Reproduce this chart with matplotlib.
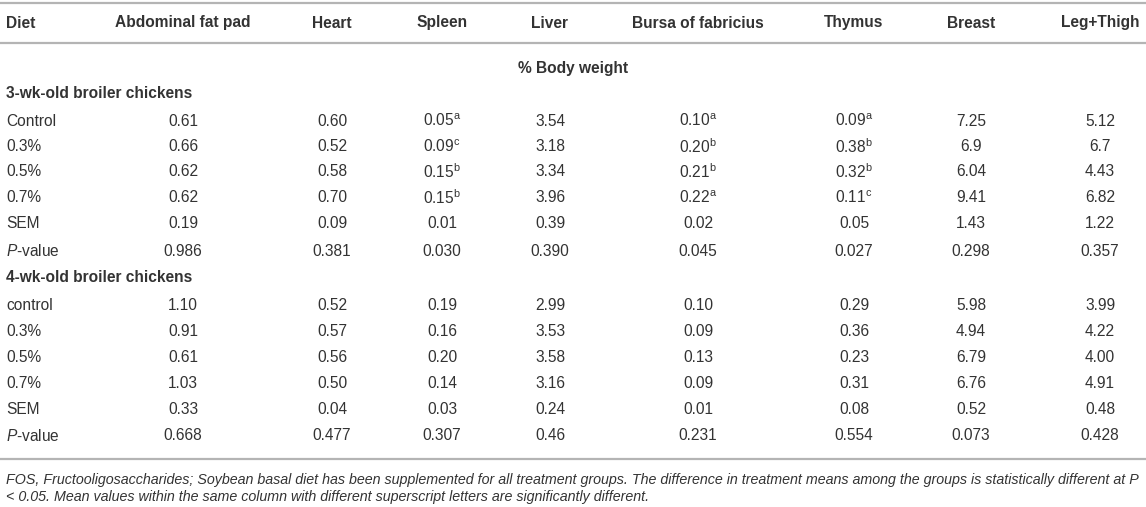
import matplotlib.pyplot as plt

plt.rcParams['font.family'] = ['Liberation Sans', 'DejaVu Sans']
plt.rcParams['mathtext.fontset'] = 'custom'
plt.rcParams['mathtext.rm'] = 'Liberation Sans'
plt.rcParams['mathtext.it'] = 'Liberation Sans:italic'

# table content
columns = ["Diet", "Abdominal fat pad", "Heart", "Spleen", "Liver",
           "Bursa of fabricius", "Thymus", "Breast", "Leg+Thigh"]
unit_label = "% Body weight"
group_names = ["3-wk-old broiler chickens", "4-wk-old broiler chickens"]

wk3_rows = ["Control", "0.3%", "0.5%", "0.7%", "SEM", "$\\mathit{P}$-value"]
wk3_values = [
    ["0.61", "0.60", "0.05", "3.54", "0.10", "0.09", "7.25", "5.12"],
    ["0.66", "0.52", "0.09", "3.18", "0.20", "0.38", "6.9", "6.7"],
    ["0.62", "0.58", "0.15", "3.34", "0.21", "0.32", "6.04", "4.43"],
    ["0.62", "0.70", "0.15", "3.96", "0.22", "0.11", "9.41", "6.82"],
    ["0.19", "0.09", "0.01", "0.39", "0.02", "0.05", "1.43", "1.22"],
    ["0.986", "0.381", "0.030", "0.390", "0.045", "0.027", "0.298", "0.357"],
]
wk3_sup = [
    ["", "", "a", "", "a", "a", "", ""],
    ["", "", "c", "", "b", "b", "", ""],
    ["", "", "b", "", "b", "b", "", ""],
    ["", "", "b", "", "a", "c", "", ""],
    ["", "", "", "", "", "", "", ""],
    ["", "", "", "", "", "", "", ""],
]

wk4_rows = ["control", "0.3%", "0.5%", "0.7%", "SEM", "$\\mathit{P}$-value"]
wk4_values = [
    ["1.10", "0.52", "0.19", "2.99", "0.10", "0.29", "5.98", "3.99"],
    ["0.91", "0.57", "0.16", "3.53", "0.09", "0.36", "4.94", "4.22"],
    ["0.61", "0.56", "0.20", "3.58", "0.13", "0.23", "6.79", "4.00"],
    ["1.03", "0.50", "0.14", "3.16", "0.09", "0.31", "6.76", "4.91"],
    ["0.33", "0.04", "0.03", "0.24", "0.01", "0.08", "0.52", "0.48"],
    ["0.668", "0.477", "0.307", "0.46", "0.231", "0.554", "0.073", "0.428"],
]

footnote_lines = [
    "FOS, Fructooligosaccharides; Soybean basal diet has been supplemented for all "
    "treatment groups. The difference in treatment means among the groups is "
    "statistically different at P",
    "< 0.05. Mean values within the same column with different superscript letters "
    "are significantly different.",
]

# layout (pixels from top-left)
W, H = 1146, 507
col_x = [6, 183, 332, 442, 550, 698, 854, 971, 1100]
text_color = "#333333"
line_color = "#b4b4b4"
fs = 11.2

fig = plt.figure(figsize=(W / 100, H / 100), dpi=100)
ax = fig.add_axes([0, 0, 1, 1])
ax.set_xlim(0, W)
ax.set_ylim(H, 0)
ax.axis("off")

for y in [3, 43, 459]:
    ax.plot([0, W], [y, y], color=line_color, lw=1.6, solid_capstyle="butt")

# header
for i, name in enumerate(columns):
    ha = "left" if i == 0 else "center"
    ax.text(col_x[i], 23, name, ha=ha, va="center", fontsize=fs,
            fontweight="bold", color=text_color)

ax.text(573, 68, unit_label, ha="center", va="center", fontsize=fs,
        fontweight="bold", color=text_color)


def cell(v, s):
    return v if not s else v + "$^{\\mathrm{" + s + "}}$"


def draw_group(title, y_title, rows, values, sups, ys):
    ax.text(col_x[0], y_title, title, ha="left", va="center", fontsize=fs,
            fontweight="bold", color=text_color)
    for r, label in enumerate(rows):
        y = ys[r]
        ax.text(col_x[0], y, label, ha="left", va="center", fontsize=fs,
                color=text_color)
        for c, v in enumerate(values[r]):
            s = sups[r][c] if sups else ""
            ax.text(col_x[c + 1], y, cell(v, s), ha="center", va="center",
                    fontsize=fs, color=text_color)


draw_group(group_names[0], 94, wk3_rows, wk3_values, wk3_sup,
           [121, 146.5, 172, 198, 224, 251])
draw_group(group_names[1], 278, wk4_rows, wk4_values, None,
           [306, 332, 357, 383, 410, 436])

for k, line in enumerate(footnote_lines):
    ax.text(col_x[0], 480 + 17 * k, line, ha="left", va="center",
            fontsize=10.25, style="italic", color=text_color)

fig.savefig("out.png", dpi=100)
